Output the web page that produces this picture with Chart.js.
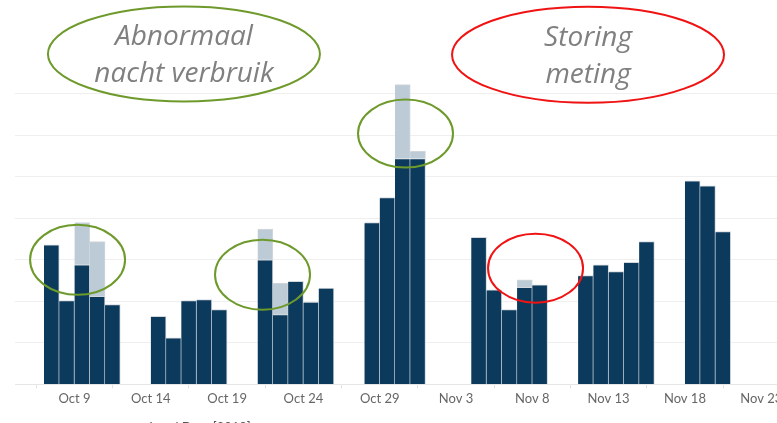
<!DOCTYPE html>
<html>
<head>
<meta charset="utf-8">
<script src="https://cdn.jsdelivr.net/npm/chart.js@4/dist/chart.umd.min.js"></script>
<style>
  html, body { margin: 0; padding: 0; background: #fff; overflow: hidden; }
  #wrap { width: 777px; height: 423px; overflow: hidden; }
</style>
</head>
<body>
<div id="wrap"><canvas id="myChart" width="800" height="423"></canvas></div>
<script>
// daily usage, weekdays only (2018)
const dates = [
  '2018-10-08','2018-10-09','2018-10-10','2018-10-11','2018-10-12',
  '2018-10-15','2018-10-16','2018-10-17','2018-10-18','2018-10-19',
  '2018-10-22','2018-10-23','2018-10-24','2018-10-25','2018-10-26',
  '2018-10-29','2018-10-30','2018-10-31','2018-11-01',
  '2018-11-05','2018-11-06','2018-11-07','2018-11-08','2018-11-09',
  '2018-11-12','2018-11-13','2018-11-14','2018-11-15','2018-11-16',
  '2018-11-19','2018-11-20','2018-11-21'
];
const usage = [
  16.8, 10.1, 14.4, 10.6, 9.6,
  8.2, 5.6, 10.1, 10.2, 9.0,
  15.0, 8.4, 12.4, 9.9, 11.6,
  19.5, 22.5, 27.2, 27.2,
  17.7, 11.4, 9.0, 11.7, 12.0,
  13.1, 14.4, 13.6, 14.7, 17.2,
  24.5, 23.9, 18.4
];
// extra (night) usage stacked on top
const extra = [
  null, null, 5.1, 6.6, null,
  null, null, null, null, null,
  3.7, 3.8, null, null, null,
  null, null, 8.9, 0.9,
  null, null, null, 0.9, null,
  null, null, null, null, null,
  null, null, null
];
const tickDates = ['2018-10-09','2018-10-14','2018-10-19','2018-10-24','2018-10-29',
  '2018-11-03','2018-11-08','2018-11-13','2018-11-18','2018-11-23'];
const tickLabels = ['Oct 9','Oct 14','Oct 19','Oct 24','Oct 29','Nov 3','Nov 8','Nov 13','Nov 18','Nov 23'];

function dayNum(iso){
  return Math.round((Date.parse(iso) - Date.parse('2018-10-01')) / 86400000) + 1;
}
// each bar ends on its date tick (like the tableau axis)
const basePts = dates.map((d, i) => ({x: dayNum(d) - 0.5, y: usage[i]}));
const extraPts = dates.map((d, i) => ({x: dayNum(d) - 0.5, y: extra[i]}));

const green = '#6e9a2c';
const red = '#f01313';
// callouts, placed in data units (day, value)
const callouts = [
  {day: 16.17, val: 39.8, rx: 136, ry: 47.5, color: green, lines: ['Abnormaal', 'nacht verbruik']},
  {day: 42.65, val: 39.7, rx: 136, ry: 48, color: red, lines: ['Storing', 'meting']},
  {day: 9.2, val: 15.0, rx: 47.5, ry: 35, color: green},
  {day: 21.32, val: 13.2, rx: 47.5, ry: 35, color: green},
  {day: 30.69, val: 30.2, rx: 47.5, ry: 34, color: green},
  {day: 39.21, val: 14.0, rx: 47.5, ry: 34.5, color: red}
];

const calloutPlugin = {
  id: 'callouts',
  afterDraw(chart) {
    const c = chart.ctx;
    const xs = chart.scales.x, ys = chart.scales.y;
    c.save();
    callouts.forEach(a => {
      const cx = xs.getPixelForValue(a.day);
      const cy = ys.getPixelForValue(a.val);
      c.beginPath();
      c.ellipse(cx, cy, a.rx, a.ry, 0, 0, Math.PI * 2);
      c.lineWidth = 2;
      c.strokeStyle = a.color;
      c.stroke();
      if (a.lines) {
        c.fillStyle = '#808080';
        c.font = 'italic 28px "Open Sans"';
        c.textAlign = 'center';
        c.textBaseline = 'alphabetic';
        c.fillText(a.lines[0], cx, cy - 9);
        c.fillText(a.lines[1], cx, cy + 28);
      }
    });
    // axis title, mostly cut off at the bottom
    c.fillStyle = '#555';
    c.font = '13px Lato';
    c.textAlign = 'center';
    c.fillText('Local Date [2018]', 200, 432);
    c.restore();
  }
};

const ctx = document.getElementById('myChart').getContext('2d');
const chartInstance = new Chart(ctx, {
  type: 'bar',
  data: {
    datasets: [{
      label: 'Verbruik',
      data: basePts,
      backgroundColor: '#0b3a5d',
      borderColor: '#d3d8dd',
      borderWidth: {top: 1, right: 1, left: 0, bottom: 0},
      borderSkipped: false,
      barPercentage: 1,
      categoryPercentage: 1
    }, {
      label: 'Extra',
      data: extraPts,
      backgroundColor: '#bccbd6',
      borderColor: '#d3d8dd',
      borderWidth: {top: 1, right: 1, left: 0, bottom: 0},
      borderSkipped: false,
      barPercentage: 1,
      categoryPercentage: 1
    }]
  },
  options: {
    responsive: false,
    devicePixelRatio: 1,
    animation: false,
    layout: {padding: {left: 15, top: 73, right: 0, bottom: 13}},
    plugins: {
      legend: {display: false},
      tooltip: {enabled: false}
    },
    scales: {
      x: {
        type: 'linear',
        offset: false,
        stacked: true,
        min: 5.1,
        max: 56.54,
        afterBuildTicks: (scale) => {
          scale.ticks = tickDates.map(d => ({value: dayNum(d)}));
        },
        ticks: {
          callback: (v, i) => tickLabels[i],
          color: '#666',
          font: {family: 'Lato', size: 13},
          maxRotation: 0,
          autoSkip: false,
          padding: 3
        },
        grid: {drawOnChartArea: false, drawTicks: true, tickLength: 4, color: '#e2e2e2'},
        border: {display: true, color: '#e6e6e6'}
      },
      y: {
        stacked: true,
        min: 0,
        max: 37.5,
        ticks: {display: false, stepSize: 5},
        grid: {
          drawTicks: false,
          color: (c) => (c.tick && c.tick.value % 5 === 0) ? '#efefef' : 'rgba(0,0,0,0)'
        },
        border: {display: false}
      }
    }
  },
  plugins: [calloutPlugin]
});
</script>
</body>
</html>
